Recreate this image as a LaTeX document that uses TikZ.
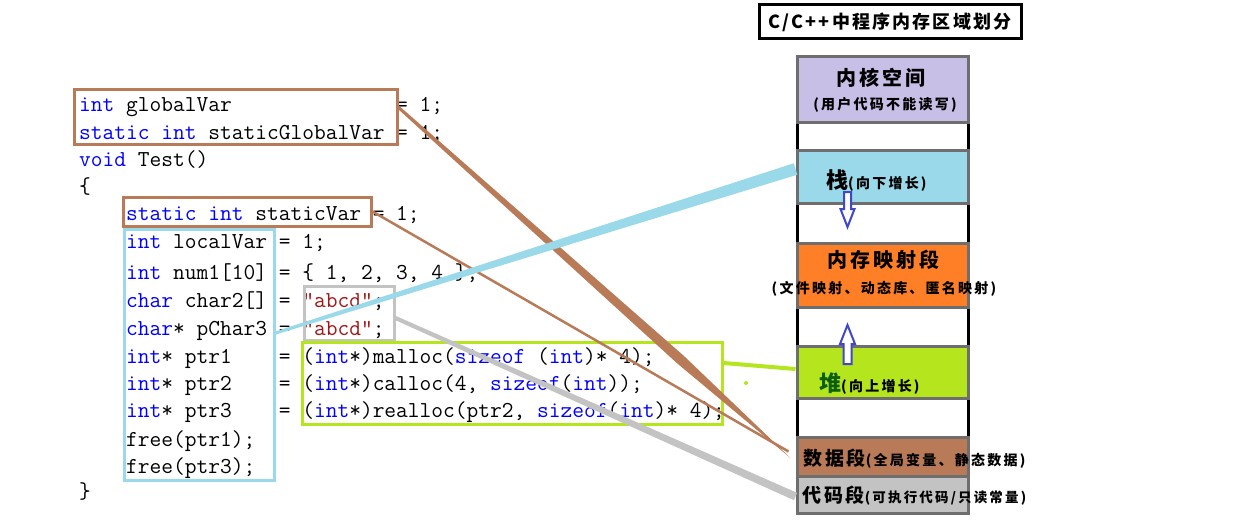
\documentclass[tikz,border=0pt]{standalone}
\usepackage{fontspec}
\newfontfamily\cjkS{Noto Sans CJK SC}[LetterSpace=16]
\newfontfamily\cjkB{Noto Sans CJK SC}[LetterSpace=15]
\newfontfamily\cjkT{Noto Sans CJK SC}[LetterSpace=12]
\usetikzlibrary{calc}
\definecolor{kwblue}{HTML}{0000FF}
\definecolor{strred}{HTML}{A31515}
\definecolor{brownc}{HTML}{B97A57}
\definecolor{lblue}{HTML}{99D9EA}
\definecolor{greyc}{HTML}{C3C3C3}
\definecolor{greenc}{HTML}{B5E61D}
\definecolor{kernc}{HTML}{C8BFE7}
\definecolor{orangec}{HTML}{FF7F27}
\definecolor{borderc}{HTML}{6E6E6E}
\definecolor{arrowc}{HTML}{3F48CC}
\definecolor{heapg}{HTML}{0B5E0B}
\newcommand\kw[1]{\textcolor{kwblue}{#1}}
\newcommand\strg[1]{\textcolor{strred}{#1}}
\newcommand\taperline[5]{\fill[#5] ($(#1)!#3!90:(#2)$) -- ($(#2)!#4!-90:(#1)$) -- ($(#2)!#4!90:(#1)$) -- ($(#1)!#3!-90:(#2)$) -- cycle;}
\frenchspacing
\begin{document}
\begin{tikzpicture}[x=1pt,y=-1pt,
  codeline/.style={anchor=base west, inner sep=0pt, font=\fontsize{22.8}{26}\selectfont\ttfamily},
  codebox/.style={draw, line width=3pt, inner sep=0pt},
  membox/.style={draw=borderc, line width=3pt, inner sep=0pt, minimum width=171},
  bigtxt/.style={inner sep=0pt, font=\cjkB\bfseries\fontsize{20}{24}\selectfont},
  smalltxt/.style={inner sep=0pt, font=\cjkS\bfseries\fontsize{14}{16}\selectfont},
  growarrow/.style={draw=arrowc, line width=2pt, fill=white}]
\useasboundingbox (0,0) rectangle (1252,527);
\fill[white] (0,0) rectangle (1252,527);

% ---- code ----
\node[codeline] (c1) at (79,111) {\kw{int}~globalVar~~~~~~~~~~~~~~=~1;};
\node[codeline] (c2) at (79,139) {\kw{static}~\kw{int}~staticGlobalVar~=~1;};
\node[codeline] (c3) at (79,166) {\kw{void}~Test()};
\node[codeline] (c4) at (79,193) {\{};
\node[codeline] (c5) at (79,220) {~~~~\kw{static}~\kw{int}~staticVar~=~1;};
\node[codeline] (c6) at (79,248) {~~~~\kw{int}~localVar~=~1;};
\node[codeline] (c7) at (79,279) {~~~~\kw{int}~num1[10]~=~\{~1,~2,~3,~4~\};};
\node[codeline] (c8) at (79,307) {~~~~\kw{char}~char2[]~=~\strg{"abcd"};};
\node[codeline] (c9) at (79,335) {~~~~\kw{char}*~pChar3~=~\strg{"abcd"};};
\node[codeline] (c10) at (79,363) {~~~~\kw{int}*~ptr1~~~~=~(\kw{int}*)malloc(\kw{sizeof}~(\kw{int})*~4);};
\node[codeline] (c11) at (79,390) {~~~~\kw{int}*~ptr2~~~~=~(\kw{int}*)calloc(4,~\kw{sizeof}(\kw{int}));};
\node[codeline] (c12) at (79,417) {~~~~\kw{int}*~ptr3~~~~=~(\kw{int}*)realloc(ptr2,~\kw{sizeof}(\kw{int})*~4);};
\node[codeline] (c13) at (79,446) {~~~~free(ptr1);};
\node[codeline] (c14) at (79,473) {~~~~free(ptr3);};
\node[codeline] (c15) at (79,498) {\}};

% ---- code boxes ----
\node[codebox, draw=brownc, minimum width=323, minimum height=55] (gvbox) at (235.5,116.5) {};
\node[codebox, draw=brownc, minimum width=248, minimum height=29] (svbox) at (247,211.5) {};
\node[codebox, draw=lblue, minimum width=150, minimum height=251] (lbox) at (199,354.5) {};
\node[codebox, draw=greyc, minimum width=90, minimum height=54] (sbox) at (349,313) {};
\node[codebox, draw=greenc, minimum width=420, minimum height=82] (hbox) at (512,383) {};

% ---- title ----
\node[draw=black, line width=3pt, minimum width=262, minimum height=34, inner sep=0pt,
  font=\cjkT\bfseries\fontsize{18}{20}\selectfont] (title) at (890,22) {C/C++中程序内存区域划分};

% ---- memory layout ----
\coordinate (colTL) at (797,57);
\coordinate (colBL) at (797,513);
\coordinate (colTR) at (968,57);
\coordinate (colBR) at (968,513);
\draw[black, line width=3pt] (colTL) -- (colBL);
\draw[black, line width=3pt] (colTR) -- (colBR);

\node[membox, fill=kernc, minimum height=65] (kern) at (882.5,89.5) {};
\node[membox, fill=lblue, minimum height=53] (stack) at (882.5,176.5) {};
\node[membox, fill=orangec, minimum height=64] (mmap) at (882.5,275) {};
\node[membox, fill=greenc, minimum height=52] (heap) at (882.5,372) {};
\node[membox, fill=brownc, minimum height=39] (data) at (882.5,456.5) {};
\node[membox, fill=greyc, minimum height=37] (code) at (882.5,494.5) {};

\node[bigtxt] (kernT) at (881,78) {内核空间};
\node[smalltxt] (kernS) at (885,105) {(用户代码不能读写)};
\node[inner sep=0pt, anchor=west] (stackT) at (826,181)
  {{\cjkB\bfseries\fontsize{22}{24}\selectfont 栈}{\cjkS\bfseries\fontsize{14}{16}\selectfont (向下增长)}};
\node[bigtxt] (mmapT) at (883,260) {内存映射段};
\node[smalltxt] (mmapS) at (884,289) {(文件映射、动态库、匿名映射)};
\node[inner sep=0pt, anchor=west] (heapT) at (819,384)
  {{\color{heapg}\cjkB\bfseries\fontsize{22}{24}\selectfont 堆}{\cjkS\bfseries\fontsize{14}{16}\selectfont (向上增长)}};
\node[inner sep=0pt, anchor=west] (dataT) at (803,459)
  {{\cjkB\bfseries\fontsize{19}{22}\selectfont 数据段}{\cjkS\bfseries\fontsize{14}{16}\selectfont (全局变量、静态数据)}};
\node[inner sep=0pt, anchor=west] (codeT) at (802,496)
  {{\cjkB\bfseries\fontsize{19}{22}\selectfont 代码段}{\cjkS\bfseries\fontsize{13.5}{16}\selectfont (可执行代码/只读常量)}};

% growth arrows
\draw[growarrow] (844,192) -- (851,192) -- (851,209) -- (854.5,209) -- (847.5,227) -- (840.5,209) -- (844,209) -- cycle;
\draw[growarrow] (843.5,364) -- (851.5,364) -- (851.5,344) -- (855,344) -- (847.5,325) -- (840,344) -- (843.5,344) -- cycle;

% ---- connectors ----
\coordinate (bAs) at ($(gvbox.north east)+(-1,19)$);
\coordinate (bAe) at ($(data.west)+(-5,1.5)$);
\fill[brownc] ($(bAs)!1.5pt!90:(bAe)$) -- ($(bAs)!0.72!(bAe)!5pt!90:(bAe)$) -- (bAe)
  -- ($(bAs)!0.72!(bAe)!5pt!-90:(bAe)$) -- ($(bAs)!1.5pt!-90:(bAe)$) -- cycle;

\coordinate (bBe) at ($(data.west)+(-7,-5)$);
\draw[brownc, line width=2.5pt] (svbox.east) -- (bBe);

\coordinate (gAs) at ($(sbox.east)+(0,5)$);
\coordinate (gAe) at ($(code.west)+(0,2)$);
\taperline{gAs}{gAe}{2pt}{4pt}{greyc}

\coordinate (lAs) at ($(lbox.east)+(0,-21.5)$);
\coordinate (lAe) at ($(stack.west)+(0,-7.5)$);
\taperline{lAs}{lAe}{1.5pt}{6pt}{lblue}

\coordinate (hAs) at ($(hbox.east)+(0,-20)$);
\coordinate (hAe) at ($(heap.west)+(0,-3)$);
\draw[greenc, line width=4pt] (hAs) -- (hAe);
\fill[greenc] (746,383) circle (2);
\end{tikzpicture}
\end{document}
